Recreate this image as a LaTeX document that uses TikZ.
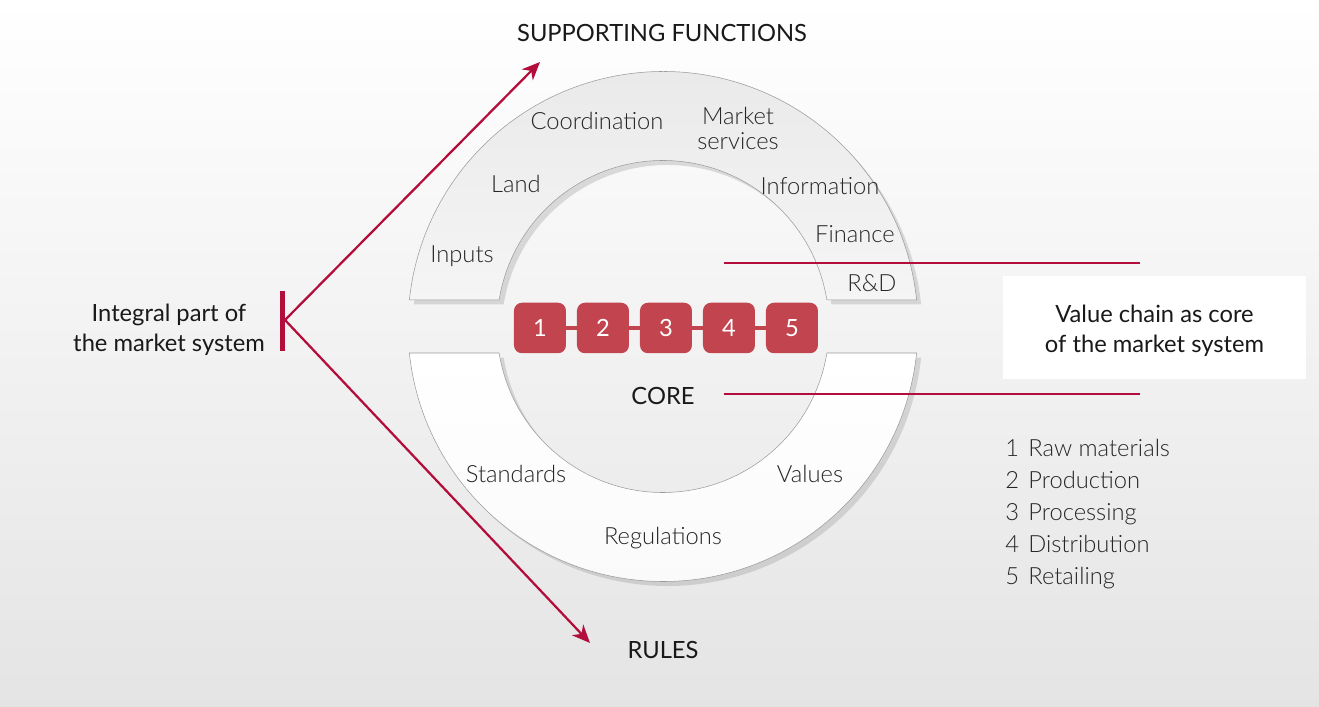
\documentclass[tikz,border=0pt]{standalone}
\usepackage{fontspec}
\setmainfont{Lato}
\newfontfamily\lightfont{Lato Light}
\usetikzlibrary{arrows.meta,shadows}

\definecolor{chainred}{HTML}{C1444E}
\definecolor{linered}{HTML}{B30D3C}
\definecolor{ringedge}{HTML}{9A9A9A}

\tikzset{
  lbl/.style={font=\lightfont\fontsize{13.5}{17}\selectfont, text=black!85, align=center, inner sep=0pt},
  head/.style={font=\fontsize{13.5}{17}\selectfont, text=black!90, align=center, inner sep=0pt},
  ring/.style={draw=ringedge, line width=0.3pt,
    drop shadow={opacity=0.26, shadow xshift=0.9mm, shadow yshift=-0.9mm}},
  chainbox/.style={fill=chainred, rounded corners=1.6mm, minimum width=10.4mm, minimum height=10.1mm,
    text=white, font=\fontsize{13.5}{17}\selectfont},
  chainlink/.style={draw=chainred, line width=0.8mm},
  redline/.style={draw=linered, line width=0.55mm},
  redarrow/.style={draw=linered, line width=0.45mm, -{Stealth[length=3.6mm, width=3.1mm, inset=1.1mm]}},
  redbar/.style={draw=linered, line width=1mm}
}

\begin{document}
\begin{tikzpicture}[x=0.2mm,y=0.2mm]

\useasboundingbox (-663,-380.5) rectangle (656,326.5);
\shade[top color=white, bottom color=gray!21] (-663,-380.5) rectangle (656,326.5);

% supporting functions
\path[ring, top color=gray!17, bottom color=gray!8]
  (5.97:255) arc[start angle=5.97, end angle=174.03, radius=255]
  -- (170.81:166) arc[start angle=170.81, end angle=9.19, radius=166] -- cycle;

% rules
\path[ring, top color=white, bottom color=gray!4]
  (-5.97:255) arc[start angle=-5.97, end angle=-174.03, radius=255]
  -- (-170.81:166) arc[start angle=-170.81, end angle=-9.19, radius=166] -- cycle;

% value chain
\foreach \a/\b in {1/2,2/3,3/4,4/5}
  \draw[chainlink] ({3+(\a-3)*63},-1.5) -- ({3+(\b-3)*63},-1.5);
\foreach \n in {1,...,5}
  \node[chainbox] (box\n) at ({3+(\n-3)*63},-1.5) {\n};

% labels on the rings
\node[head] (supp) at (-1,293.5) {SUPPORTING FUNCTIONS};
\node[lbl] (coord) at (-66,205.5) {Coordination};
\node[lbl, font=\lightfont\fontsize{13.5}{14.5}\selectfont] (market) at (75,198) {Market\\services};
\node[lbl] (land) at (-147,142.5) {Land};
\node[lbl] (info) at (157,140.5) {Information};
\node[lbl] (fin) at (192,92.5) {Finance};
\node[lbl] (inp) at (-201,70.5) {Inputs};
\node[lbl] (rd) at (209,43.5) {R\&D};
\node[head] (core) at (0,-69.5) {CORE};
\node[lbl] (stand) at (-147,-147.5) {Standards};
\node[lbl] (vals) at (147,-147.5) {Values};
\node[lbl] (regs) at (0,-211.5) {Regulations};
\node[head] (rules) at (0,-323.5) {RULES};

% integral part
\node[head] (integral) at (-494,-3) {Integral part of\\the market system};
\coordinate (bartop) at (-380,35.5);
\coordinate (barbot) at (-380,-24.5);
\coordinate (fork) at (-378,6.5);
\coordinate (supptip) at (-123,264.5);
\coordinate (rulestip) at (-73,-316.5);
\draw[redbar] (bartop) -- (barbot);
\draw[redarrow] (fork) -- (supptip);
\draw[redarrow] (fork) -- (rulestip);

% value chain as core
\coordinate (upA) at (61,63.5);
\coordinate (upB) at (477,63.5);
\coordinate (loA) at (61,-67.5);
\coordinate (loB) at (477,-67.5);
\draw[redline] (upA) -- (upB);
\draw[redline] (loA) -- (loB);
\node[fill=white, minimum width=60.6mm, minimum height=20.6mm] (vcbox) at (491.5,-1) {};
\node[head] (vctext) at (491.5,-4) {Value chain as core\\of the market system};

% legend
\foreach \n/\t [count=\i] in {1/Raw materials,2/Production,3/Processing,4/Distribution,5/Retailing}{
  \node[lbl, anchor=base west] (num\n) at (342,{-130.5-32*(\i-1)}) {\n};
  \node[lbl, anchor=base west] (leg\n) at (365,{-130.5-32*(\i-1)}) {\t};
}

\end{tikzpicture}
\end{document}
